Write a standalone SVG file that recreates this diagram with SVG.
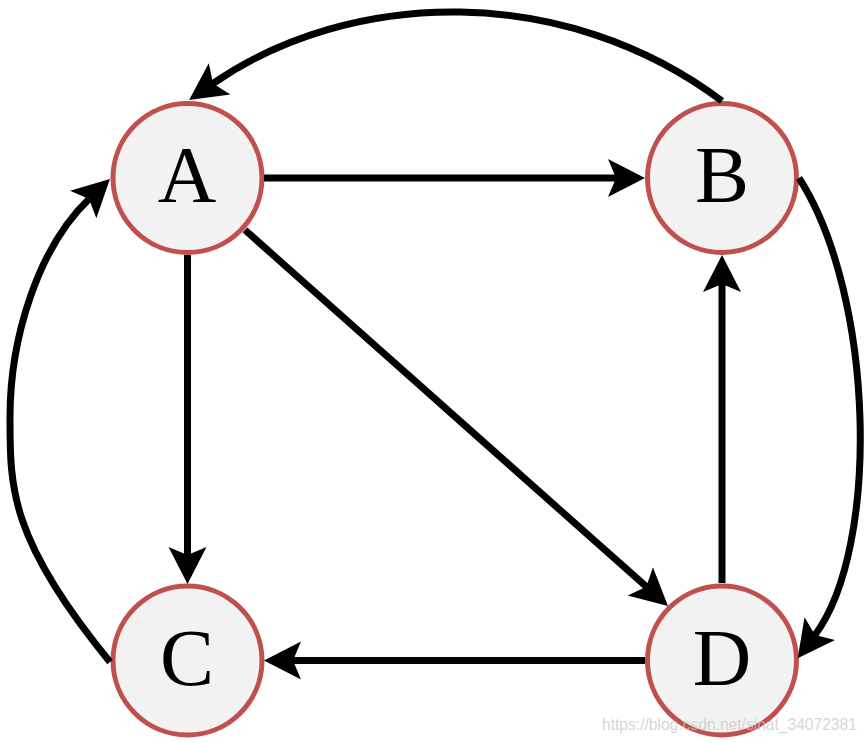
<svg xmlns="http://www.w3.org/2000/svg" width="868" height="743" viewBox="0 0 868 743">
<style>
.node circle{fill:#f2f2f2;stroke:#c0504d;stroke-width:5}
.node text{font-family:"Liberation Serif","Times New Roman",serif;font-size:81px;fill:#000;text-anchor:middle}
.edge{fill:none;stroke:#000;stroke-width:7;marker-end:url(#arr)}
.wm{font-family:"Liberation Sans",Arial,sans-serif;font-size:15.6px;fill:#c8c8c8;fill-opacity:0.75}
</style>
<defs>
<marker id="arr" markerUnits="userSpaceOnUse" markerWidth="38" markerHeight="40" viewBox="0 0 38 40" refX="8" refY="20" orient="auto">
<path d="M0,1 L37,20 L0,39 L8,20 z" fill="#000"/>
</marker>
</defs>
<rect width="868" height="743" fill="#fff"/>
<g id="nodes">
<g id="A" class="node"><circle cx="187.5" cy="178" r="74.5"/><text x="187" y="202">A</text></g>
<g id="B" class="node"><circle cx="722" cy="178" r="74.5"/><text x="722" y="202">B</text></g>
<g id="C" class="node"><circle cx="187.5" cy="660.5" r="74.5"/><text x="187" y="685">C</text></g>
<g id="D" class="node"><circle cx="722" cy="660.5" r="74.5"/><text x="722" y="685">D</text></g>
</g>
<g id="connectors">
<path class="edge" d="M264,178 L616,178"/>
<path class="edge" d="M187.5,255 L187.5,555"/>
<path class="edge" d="M245,230 L646.3,586.7"/>
<path class="edge" d="M722,583 L722,284"/>
<path class="edge" d="M645,660.5 L293,660.5"/>
<path class="edge" d="M722,101 C564,-17.6 351,-11.8 213,83.5"/>
<path class="edge" d="M799,178 C874.6,295.6 880.6,546.7 815,635"/>
<path class="edge" d="M110,662 C9,539 10,487 10,417 C10,337 38.6,247.3 89,199"/>
</g>
<text class="wm" x="602" y="730">https://blog.csdn.net/sinat_34072381</text>
</svg>
